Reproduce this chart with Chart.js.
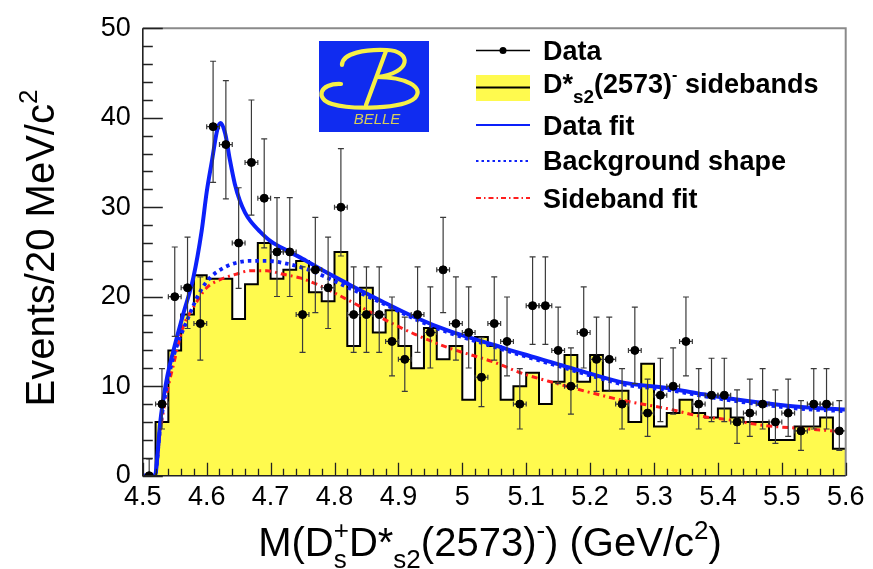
<!DOCTYPE html>
<html>
<head>
<meta charset="utf-8">
<script src="https://cdn.jsdelivr.net/npm/chart.js@4.4.1/dist/chart.umd.min.js"></script>
<style>
  html, body { margin: 0; padding: 0; background: #fff; }
  #wrap { width: 873px; height: 569px; }
</style>
</head>
<body>
<div id="wrap"><canvas id="massChart"></canvas></div>
<script>
// 20 MeV bins from 4.50 to 5.60 GeV/c^2
const binLo = 4.5;
const binWidth = 0.02;

// events per bin (data)
const dataCounts = [0, 8, 20, 21, 17, 39, 37, 26, 35, 31,
                    25, 25, 18, 23, 21, 30, 18, 18, 18, 15,
                    13, 18, 16, 23, 17, 16, 11, 17, 15, 8,
                    19, 19, 14, 10, 16, 13, 13, 8, 14, 7,
                    9, 10, 15, 8, 9, 9, 6, 7, 8, 6,
                    7, 5, 8, 8, 5];

// scaled D*s2(2573) sideband histogram
const sidebandCounts = [0, 6, 14, 18, 22.4, 22, 22, 17.5, 21.4, 26,
                        22, 23, 24, 20.5, 19.5, 25, 14.5, 21, 16, 18.5,
                        14.5, 12, 16.5, 13, 14.5, 8.5, 15.5, 14.5, 8.5, 10,
                        11.5, 8, 10.5, 13.5, 10.5, 13.5, 9.5, 9.5, 6, 12.5,
                        5.5, 7, 8.5, 7, 6.5, 7.5, 6.5, 6, 6, 4,
                        4, 5.5, 5.5, 6.5, 3];

// data fit (signal + background)
const fitX = [4.500, 4.519, 4.524, 4.527, 4.537, 4.548, 4.563, 4.579, 4.592, 4.600, 4.608, 4.617, 4.622,
              4.629, 4.636, 4.644, 4.652, 4.660, 4.668, 4.683, 4.700, 4.730, 4.756, 4.780, 4.822, 4.874,
              4.926, 4.978, 5.050, 5.095, 5.148, 5.200, 5.252, 5.320, 5.369, 5.421, 5.474, 5.526, 5.600];
const fitY = [0, 0, 3.2, 5.8, 10.6, 14.0, 18.0, 22.1, 27.3, 31.7, 35.1, 38.8, 39.4,
              38.2, 35.4, 32.6, 30.7, 29.4, 28.5, 27.3, 26.2, 25.0, 24.0, 23.0, 21.4, 19.5,
              17.7, 16.2, 14.6, 13.6, 12.5, 11.4, 10.4, 9.8, 9.2, 8.6, 8.1, 7.7, 7.4];

// background shape
const bkgX = [4.500, 4.519, 4.527, 4.537, 4.548, 4.569, 4.590, 4.605, 4.621, 4.642, 4.668, 4.694,
              4.725, 4.756, 4.780, 4.822, 4.874, 4.926, 4.978, 5.050, 5.095, 5.148, 5.200,
              5.252, 5.320, 5.369, 5.421, 5.474, 5.526, 5.600];
const bkgY = [0, 0, 5.3, 9.8, 13.3, 17.3, 20.6, 22.1, 23.0, 23.7, 24.0, 24.0,
              23.7, 23.1, 22.4, 21.0, 19.3, 17.5, 16.0, 14.4, 13.4, 12.3, 11.2,
              10.2, 9.6, 9.0, 8.4, 7.9, 7.5, 7.2];

// sideband fit
const sbfX = [4.500, 4.519, 4.527, 4.537, 4.548, 4.563, 4.579, 4.600, 4.621, 4.645, 4.668, 4.694,
              4.720, 4.746, 4.772, 4.822, 4.874, 4.926, 4.978, 5.049, 5.095, 5.148, 5.200,
              5.252, 5.320, 5.369, 5.421, 5.474, 5.526, 5.600];
const sbfY = [0, 0, 4.8, 9.0, 12.4, 16.6, 18.8, 21.0, 21.9, 22.5, 22.9, 22.9,
              22.5, 22.1, 21.4, 19.6, 17.6, 15.8, 14.3, 12.7, 11.4, 10.3, 9.3,
              8.4, 7.5, 6.7, 6.2, 5.6, 5.3, 4.9];

const FONT = "'Liberation Sans', Arial, Helvetica, sans-serif";
const BLUE = 'rgb(12, 32, 250)';
const RED = 'rgb(255, 30, 30)';
const YELLOW = 'rgb(255, 250, 78)';

const xy = (xs, ys) => xs.map((x, i) => ({ x: x, y: ys[i] }));

// histogram outline: each bin contributes its left and right edge
const histPoints = [];
sidebandCounts.forEach((v, i) => {
    histPoints.push({ x: binLo + i * binWidth, y: v });
    histPoints.push({ x: binLo + (i + 1) * binWidth, y: v });
});

const dataPoints = dataCounts.map((n, i) => ({ x: binLo + (i + 0.5) * binWidth, y: n }));

// asymmetric Poisson errors
const errUp = n => Math.sqrt(n + 0.75) + 1;
const errDn = n => (n > 0 ? Math.sqrt(n - 0.25) : 0);

// draws text made of pieces: {t, dy (em of base), s (size factor), stack}
function drawRich(ctx, pieces, x, y, size, weight) {
    let cx = x;
    const font = s => `${weight} ${size * s}px ${FONT}`;
    pieces.forEach(p => {
        if (p.stack) {
            ctx.font = font(0.65);
            const w1 = ctx.measureText(p.stack[0]).width;
            const w2 = ctx.measureText(p.stack[1]).width;
            ctx.fillText(p.stack[0], cx, y - size * 0.42);
            ctx.fillText(p.stack[1], cx, y + size * 0.3);
            cx += Math.max(w1, w2);
            return;
        }
        ctx.font = font(p.s || 1);
        ctx.fillText(p.t, cx, y + (p.dy || 0) * size);
        cx += ctx.measureText(p.t).width;
    });
    return cx - x;
}
function richWidth(ctx, pieces, size, weight) {
    ctx.save();
    ctx.globalAlpha = 0;
    const w = drawRich(ctx, pieces, 0, 0, size, weight);
    ctx.restore();
    return w;
}

const decorations = {
    id: 'decorations',
    beforeDatasetDraw(chart, args) {
        if (chart.data.datasets[args.index].label !== 'Data') return;
        const { ctx, chartArea } = chart;
        const xs = chart.scales.x, ys = chart.scales.y;
        ctx.save();
        ctx.beginPath();
        ctx.rect(chartArea.left, chartArea.top, chartArea.right - chartArea.left, chartArea.bottom - chartArea.top);
        ctx.clip();
        ctx.strokeStyle = '#3a3a3a';
        ctx.lineWidth = 1.2;
        dataPoints.forEach(p => {
            const px = xs.getPixelForValue(p.x);
            const yHi = ys.getPixelForValue(p.y + errUp(p.y));
            const yLo = ys.getPixelForValue(p.y - errDn(p.y));
            const xL = xs.getPixelForValue(p.x - binWidth / 2);
            const xR = xs.getPixelForValue(p.x + binWidth / 2);
            const py = ys.getPixelForValue(p.y);
            ctx.beginPath();
            ctx.moveTo(px, yHi); ctx.lineTo(px, yLo);
            ctx.moveTo(px - 3, yHi); ctx.lineTo(px + 3, yHi);
            ctx.moveTo(px - 3, yLo); ctx.lineTo(px + 3, yLo);
            ctx.moveTo(xL, py); ctx.lineTo(xR, py);
            ctx.moveTo(xL, py - 2.5); ctx.lineTo(xL, py + 2.5);
            ctx.moveTo(xR, py - 2.5); ctx.lineTo(xR, py + 2.5);
            ctx.stroke();
        });
        ctx.restore();
    },
    afterDraw(chart) {
        const { ctx, chartArea: a } = chart;
        const xs = chart.scales.x, ys = chart.scales.y;
        ctx.save();

        // frame
        ctx.lineWidth = 2;
        ctx.strokeStyle = '#8a8a8a';
        ctx.beginPath();
        ctx.moveTo(a.left, a.top); ctx.lineTo(a.right, a.top); ctx.lineTo(a.right, a.bottom);
        ctx.stroke();
        ctx.strokeStyle = '#222';
        ctx.lineWidth = 1.6;
        ctx.beginPath();
        ctx.moveTo(a.left, a.top); ctx.lineTo(a.left, a.bottom); ctx.lineTo(a.right, a.bottom);
        ctx.stroke();

        // inward ticks
        ctx.lineWidth = 1.3;
        ctx.beginPath();
        for (let v = 0; v <= 50; v += 2) {
            const py = Math.round(ys.getPixelForValue(v)) + 0.5;
            const len = v % 10 === 0 ? 20 : 10;
            ctx.moveTo(a.left, py); ctx.lineTo(a.left + len, py);
        }
        for (let k = 0; k <= 55; k++) {
            const px = Math.round(xs.getPixelForValue(binLo + k * binWidth)) + 0.5;
            const len = k % 5 === 0 ? 13 : 7;
            ctx.moveTo(px, a.bottom); ctx.lineTo(px, a.bottom - len);
        }
        ctx.stroke();

        // experiment logo
        const lx = 319, ly = 41;
        ctx.fillStyle = 'rgb(16, 44, 240)';
        ctx.fillRect(lx, ly, 110, 91);
        ctx.strokeStyle = 'rgb(246, 240, 70)';
        ctx.lineWidth = 4.2;
        ctx.lineCap = 'round';
        ctx.beginPath();
        ctx.moveTo(342, 65);
        ctx.bezierCurveTo(342, 53, 366, 49, 387, 50);
        ctx.bezierCurveTo(412, 51, 412, 73, 377, 77);
        ctx.bezierCurveTo(405, 77, 425, 87, 415, 98);
        ctx.bezierCurveTo(403, 109, 352, 110, 332, 104);
        ctx.bezierCurveTo(315, 99, 319, 83, 341, 84);
        ctx.stroke();
        ctx.beginPath();
        ctx.moveTo(386, 51);
        ctx.lineTo(366, 105);
        ctx.stroke();
        ctx.fillStyle = 'rgb(214, 206, 90)';
        ctx.font = `italic 15px ${FONT}`;
        ctx.textAlign = 'center';
        ctx.textBaseline = 'alphabetic';
        ctx.fillText('BELLE', 377, 124);
        ctx.textAlign = 'left';

        // legend
        const sx0 = 476, sx1 = 530, tx = 543, lsz = 27;
        ctx.fillStyle = '#000';
        ctx.strokeStyle = '#000';
        ctx.lineWidth = 1.5;
        ctx.lineCap = 'butt';
        ctx.setLineDash([]);
        ctx.beginPath(); ctx.moveTo(sx0, 50.5); ctx.lineTo(sx1, 50.5); ctx.stroke();
        ctx.beginPath(); ctx.arc(503, 50.5, 3.5, 0, Math.PI * 2); ctx.fill();
        drawRich(ctx, [{ t: 'Data' }], tx, 60, lsz, 'bold');

        ctx.fillStyle = YELLOW;
        ctx.fillRect(sx0, 75, sx1 - sx0, 26);
        ctx.strokeStyle = '#000';
        ctx.lineWidth = 2;
        ctx.beginPath(); ctx.moveTo(sx0, 87.5); ctx.lineTo(sx1, 87.5); ctx.stroke();
        ctx.fillStyle = '#000';
        drawRich(ctx, [{ t: 'D*' }, { t: 's2', s: 0.7, dy: 0.38 }, { t: '(2573)' },
                       { t: '-', s: 0.6, dy: -0.5 }, { t: ' sidebands' }], tx, 93, lsz, 'bold');

        ctx.lineWidth = 2.2;
        ctx.strokeStyle = BLUE;
        ctx.beginPath(); ctx.moveTo(sx0, 125); ctx.lineTo(sx1, 125); ctx.stroke();
        drawRich(ctx, [{ t: 'Data fit' }], tx, 135, lsz, 'bold');

        ctx.setLineDash([2.5, 3]);
        ctx.beginPath(); ctx.moveTo(sx0, 161); ctx.lineTo(sx1, 161); ctx.stroke();
        ctx.setLineDash([]);
        drawRich(ctx, [{ t: 'Background shape' }], tx, 169.5, lsz, 'bold');

        ctx.strokeStyle = RED;
        ctx.setLineDash([5, 3, 1.5, 3]);
        ctx.beginPath(); ctx.moveTo(sx0, 198); ctx.lineTo(sx1, 198); ctx.stroke();
        ctx.setLineDash([]);
        drawRich(ctx, [{ t: 'Sideband fit' }], tx, 208, lsz, 'bold');

        // axis titles
        const tsz = 40;
        const xTitle = [{ t: 'M(D' }, { stack: ['+', 's'] }, { t: 'D*' }, { t: 's2', s: 0.65, dy: 0.3 },
                        { t: '(2573)' }, { t: '-', s: 0.65, dy: -0.42 }, { t: ') (GeV/c' },
                        { t: '2', s: 0.65, dy: -0.42 }, { t: ')' }];
        const wx = richWidth(ctx, xTitle, tsz, 'normal');
        ctx.fillStyle = '#000';
        drawRich(ctx, xTitle, 490 - wx / 2, 556, tsz, 'normal');

        const yTitle = [{ t: 'Events/20 MeV/c' }, { t: '2', s: 0.65, dy: -0.42 }];
        const wy = richWidth(ctx, yTitle, tsz, 'normal');
        ctx.translate(54, 248);
        ctx.rotate(-Math.PI / 2);
        drawRich(ctx, yTitle, -wy / 2, 0, tsz, 'normal');

        ctx.restore();
    }
};

new Chart(document.getElementById('massChart'), {
    type: 'scatter',
    data: {
        datasets: [
            {
                label: 'Data',
                data: dataPoints,
                backgroundColor: '#000',
                borderColor: '#000',
                pointRadius: 4,
                pointHoverRadius: 4,
                order: 0
            },
            {
                type: 'line',
                label: 'Data fit',
                data: xy(fitX, fitY),
                borderColor: BLUE,
                borderWidth: 4,
                pointRadius: 0,
                cubicInterpolationMode: 'monotone',
                fill: false,
                order: 1
            },
            {
                type: 'line',
                label: 'Background shape',
                data: xy(bkgX, bkgY),
                borderColor: BLUE,
                borderWidth: 3.8,
                borderDash: [3.5, 4],
                pointRadius: 0,
                cubicInterpolationMode: 'monotone',
                fill: false,
                order: 2
            },
            {
                type: 'line',
                label: 'Sideband fit',
                data: xy(sbfX, sbfY),
                borderColor: RED,
                borderWidth: 3,
                borderDash: [6, 4, 2, 4],
                pointRadius: 0,
                cubicInterpolationMode: 'monotone',
                fill: false,
                order: 3
            },
            {
                type: 'line',
                label: 'Sidebands',
                data: histPoints,
                borderColor: '#000',
                borderWidth: 2,
                backgroundColor: YELLOW,
                fill: 'origin',
                pointRadius: 0,
                tension: 0,
                order: 4
            }
        ]
    },
    options: {
        responsive: true,
        maintainAspectRatio: false,
        animation: false,
        events: [],
        layout: { padding: { top: 25.7, right: 27.3, left: 0, bottom: 0 } },
        plugins: {
            legend: { display: false },
            tooltip: { enabled: false }
        },
        scales: {
            x: {
                type: 'linear',
                min: 4.5,
                max: 5.6,
                grid: { display: false, drawTicks: false },
                border: { display: false },
                ticks: {
                    stepSize: 0.1,
                    padding: 6,
                    maxRotation: 0,
                    autoSkip: false,
                    color: '#000',
                    font: { family: FONT, size: 27 },
                    callback: v => String(Math.round(v * 10) / 10)
                },
                afterFit: s => { s.height = 93.3; }
            },
            y: {
                min: 0,
                max: 50,
                grid: { display: false, drawTicks: false },
                border: { display: false },
                ticks: {
                    stepSize: 10,
                    padding: 12,
                    color: '#000',
                    font: { family: FONT, size: 27 }
                },
                afterFit: s => { s.width = 142.8; }
            }
        }
    },
    plugins: [decorations]
});
</script>
</body>
</html>
